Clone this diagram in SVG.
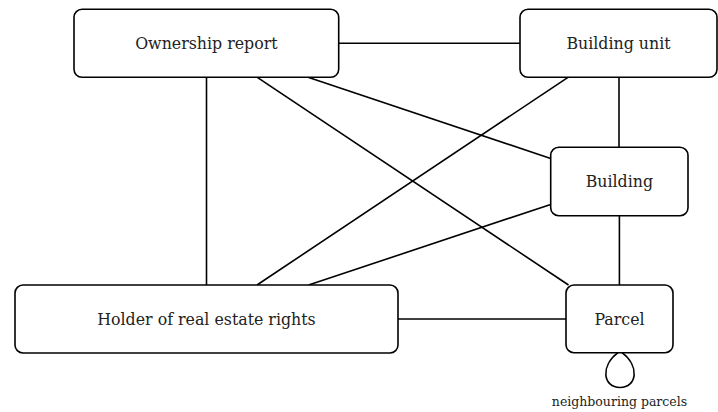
<svg xmlns="http://www.w3.org/2000/svg" width="718" height="412" viewBox="0 0 718 412">
<style>
.node rect{fill:#fff;stroke:#000;stroke-width:1.6}
.t{font-family:'DejaVu Serif',serif;font-size:15.8px;fill:#222;text-anchor:middle}
.edges line,.edges path{stroke:#000;stroke-width:1.6;fill:none}
.lbl{font-family:'DejaVu Serif',serif;font-size:12.5px;fill:#222;text-anchor:middle}
</style>
<rect width="718" height="412" fill="#fff"/>
<g class="edges">
<line x1="338.7" y1="43.3" x2="520" y2="43.3"/>
<line x1="206.5" y1="77.3" x2="206.5" y2="285"/>
<line x1="308" y1="77.3" x2="550.7" y2="158.5"/>
<line x1="257.3" y1="77.3" x2="568.5" y2="285"/>
<line x1="619" y1="77.3" x2="619" y2="147.3"/>
<line x1="568" y1="77.3" x2="257" y2="285"/>
<line x1="550.7" y1="204.4" x2="308.6" y2="285"/>
<line x1="619.4" y1="215.7" x2="619.4" y2="285"/>
<line x1="398" y1="319" x2="566" y2="319"/>
<path d="M618,352.7 C600,366 603,387.5 620,387.5 C637,387.5 640,366 622,352.7"/>
</g>
<g id="ownership" class="node"><rect x="74" y="9.3" width="264.7" height="68" rx="8"/><text class="t" x="206.4" y="48.8">Ownership report</text></g>
<g id="buildingunit" class="node"><rect x="520" y="9.3" width="197" height="68" rx="8"/><text class="t" x="618.5" y="48.8">Building unit</text></g>
<g id="building" class="node"><rect x="550.7" y="147.3" width="137.3" height="68.4" rx="8"/><text class="t" x="619.4" y="187">Building</text></g>
<g id="holder" class="node"><rect x="15" y="285" width="383" height="68" rx="8"/><text class="t" x="206.5" y="324.5">Holder of real estate rights</text></g>
<g id="parcel" class="node"><rect x="566" y="285" width="107" height="67.7" rx="8"/><text class="t" x="619.5" y="325">Parcel</text></g>
<text class="lbl" x="619.5" y="406.3">neighbouring parcels</text>
</svg>
